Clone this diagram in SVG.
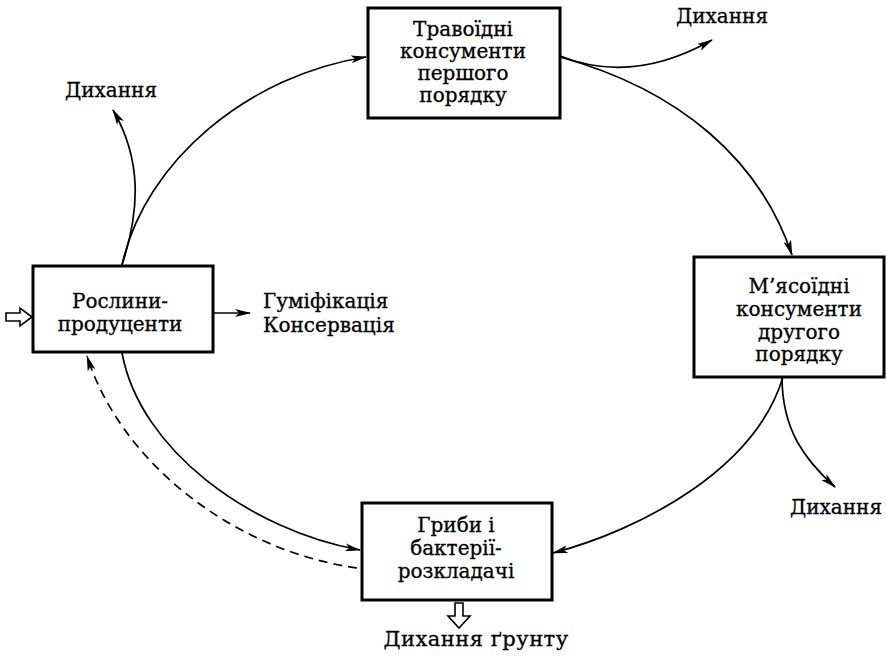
<svg xmlns="http://www.w3.org/2000/svg" width="886" height="656" viewBox="0 0 886 656">
<defs>
<style>
.box{fill:#fff;stroke:#000;stroke-width:3}
.t{font-family:"DejaVu Serif","Liberation Serif",serif;font-size:20px;fill:#000;stroke:#000;stroke-width:0.3}
.c{text-anchor:middle}
.ln{fill:none;stroke:#000;stroke-width:1.7}
.dash{stroke-dasharray:9,6}
.hollow{fill:#fff;stroke:#000;stroke-width:1.6}
</style>
<marker id="ah" viewBox="0 0 16 8" refX="15" refY="4" markerWidth="16" markerHeight="8" markerUnits="userSpaceOnUse" orient="auto">
<path d="M0,0 L16,4 L0,8 L4,4 Z" fill="#000"/>
</marker>
</defs>
<rect width="886" height="656" fill="#fff"/>
<g id="connectors">
<path class="ln" d="M122,265 C145,160 250,75 366,57" marker-end="url(#ah)"/>
<path class="ln" d="M122,265 C140,210 142,160 113,110" marker-end="url(#ah)"/>
<path class="ln" d="M560,57 C680,90 760,160 792,255" marker-end="url(#ah)"/>
<path class="ln" d="M560,56 C600,72 650,75 712,40" marker-end="url(#ah)"/>
<path class="ln" d="M783,377 C755,470 640,530 553,553" marker-end="url(#ah)"/>
<path class="ln" d="M782,377 C782,430 805,460 835,487" marker-end="url(#ah)"/>
<path class="ln" d="M122,353 C140,450 250,530 360,550" marker-end="url(#ah)"/>
<path class="ln dash" d="M357,568 C230,550 120,460 87,356" marker-end="url(#ah)"/>
<path class="ln" d="M213,313 L250,313" marker-end="url(#ah)"/>
<polygon class="hollow" points="6,313 20,313 20,308 32,317 20,326 20,321 6,321"/>
<polygon class="hollow" points="455,603 463,603 463,616 470,616 459,628 448,616 455,616"/>
</g>
<g id="producers">
<rect class="box" x="33" y="266" width="180" height="86"/>
<text class="t c" x="120" y="308">Рослини-</text>
<text class="t c" x="120" y="331">продуценти</text>
</g>
<g id="humification">
<text class="t" x="263" y="308">Гуміфікація</text>
<text class="t" x="263" y="332">Консервація</text>
</g>
<g id="herbivores">
<rect class="box" x="368" y="8" width="192" height="110"/>
<text class="t c" x="463" y="36">Травоїдні</text>
<text class="t c" x="463" y="58">консументи</text>
<text class="t c" x="463" y="80">першого</text>
<text class="t c" x="463" y="102">порядку</text>
</g>
<g id="carnivores">
<rect class="box" x="694" y="257" width="190" height="120"/>
<text class="t c" x="799" y="293">М’ясоїдні</text>
<text class="t c" x="799" y="316">консументи</text>
<text class="t c" x="799" y="339">другого</text>
<text class="t c" x="799" y="361">порядку</text>
</g>
<g id="decomposers">
<rect class="box" x="362" y="503" width="190" height="97"/>
<text class="t c" x="456" y="532">Гриби і</text>
<text class="t c" x="456" y="555">бактерії-</text>
<text class="t c" x="456" y="578">розкладачі</text>
</g>
<g id="labels">
<text class="t" x="65" y="97">Дихання</text>
<text class="t" x="676" y="23">Дихання</text>
<text class="t" x="790" y="514">Дихання</text>
<text class="t c" x="476" y="646" style="font-size:21px;letter-spacing:0.5px">Дихання ґрунту</text>
</g>
</svg>
